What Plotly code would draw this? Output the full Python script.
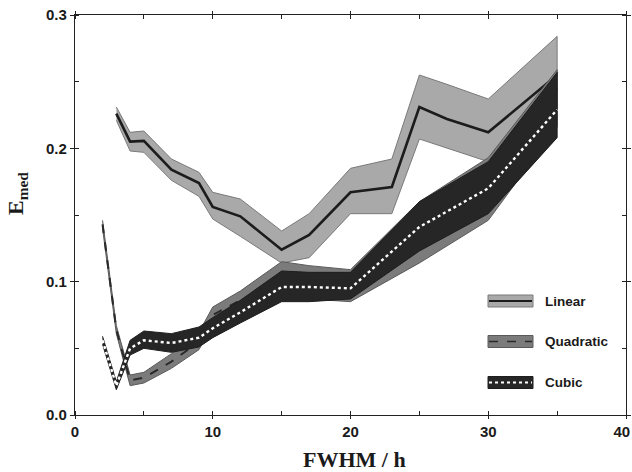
import plotly.graph_objects as go

# ---- data ----
lin_x = [3, 4, 5, 7, 9, 10, 12, 15, 17, 20, 23, 25, 27, 30, 35]
lin_mid = [0.226, 0.205, 0.2056, 0.184, 0.174, 0.156, 0.149, 0.124, 0.135, 0.167, 0.171, 0.231, 0.222, 0.212, 0.255]
lin_hi = [0.231, 0.212, 0.213, 0.192, 0.182, 0.167, 0.162, 0.138, 0.151, 0.185, 0.192, 0.255, 0.248, 0.237, 0.284]
lin_lo = [0.221, 0.198, 0.197, 0.176, 0.164, 0.147, 0.134, 0.114, 0.118, 0.151, 0.151, 0.207, 0.200, 0.190, 0.230]

quad_x = [2, 3, 4, 5, 7, 9, 10, 12, 15, 17, 20, 25, 30, 35]
quad_mid = [0.143, 0.064, 0.026, 0.028, 0.040, 0.055, 0.075, 0.086, 0.101, 0.100, 0.098, 0.140, 0.172, 0.245]
quad_hi = [0.146, 0.067, 0.030, 0.032, 0.046, 0.062, 0.081, 0.093, 0.115, 0.112, 0.109, 0.160, 0.193, 0.259]
quad_lo = [0.140, 0.061, 0.022, 0.024, 0.035, 0.049, 0.068, 0.078, 0.088, 0.087, 0.085, 0.114, 0.146, 0.216]

cub_x = [2, 3, 4, 5, 7, 9, 10, 12, 15, 17, 20, 25, 30, 35]
cub_mid = [0.056, 0.022, 0.050, 0.056, 0.054, 0.058, 0.065, 0.077, 0.096, 0.096, 0.095, 0.141, 0.170, 0.229]
cub_hi = [0.059, 0.025, 0.056, 0.063, 0.061, 0.066, 0.073, 0.086, 0.108, 0.107, 0.107, 0.160, 0.190, 0.257]
cub_lo = [0.053, 0.019, 0.045, 0.050, 0.047, 0.051, 0.058, 0.069, 0.085, 0.085, 0.087, 0.123, 0.151, 0.208]

series_names = ["Linear", "Quadratic", "Cubic"]
x_ticks = [0, 10, 20, 30, 40]
x_tick_labels = ["0", "10", "20", "30", "40"]
y_ticks = [0.0, 0.1, 0.2, 0.3]

# ---- styles ----
band_fill = ["#a9a9a9", "#7b7b7b", "#262626"]
band_edge = ["#7a7a7a", "#5a5a5a", "#1e1e1e"]
line_col = ["#1c1c1c", "#2a2a2a", "#ffffff"]
line_dash = ["solid", "dash", "dot"]
line_w = [2.6, 2.0, 2.4]

data = [(lin_x, lin_mid, lin_hi, lin_lo),
        (quad_x, quad_mid, quad_hi, quad_lo),
        (cub_x, cub_mid, cub_hi, cub_lo)]

fig = go.Figure()
for i, (xs, mid, hi, lo) in enumerate(data):
    fig.add_trace(go.Scatter(
        x=list(xs) + list(xs)[::-1], y=list(hi) + list(lo)[::-1],
        fill="toself", fillcolor=band_fill[i], mode="lines",
        line=dict(color=band_edge[i], width=1), showlegend=False, hoverinfo="skip"))
    fig.add_trace(go.Scatter(
        x=xs, y=mid, mode="lines", name=series_names[i],
        line=dict(color=line_col[i], width=line_w[i], dash=line_dash[i]),
        showlegend=False))

# plot area in pixels (for the hand-drawn legend and titles)
L, R, T, B = 75, 626, 15, 415
W, H = 632, 472


def px(xp):
    return (xp - L) / (R - L)


def py(yp):
    return (B - yp) / (B - T)


leg_y = [301, 341.5, 382.5]
box_x0, box_x1 = 488, 533
for i, name in enumerate(series_names):
    yc = leg_y[i]
    fig.add_shape(type="rect", xref="paper", yref="paper",
                  x0=px(box_x0), x1=px(box_x1), y0=py(yc + 6), y1=py(yc - 6),
                  fillcolor=band_fill[i], line=dict(color=band_edge[i], width=1))
    fig.add_shape(type="line", xref="paper", yref="paper",
                  x0=px(box_x0 + 1), x1=px(box_x1 - 1), y0=py(yc), y1=py(yc),
                  line=dict(color=line_col[i], width=line_w[i] - 0.4, dash=line_dash[i]))
    fig.add_annotation(xref="paper", yref="paper", x=px(543), y=py(yc),
                       xanchor="left", yanchor="middle", showarrow=False,
                       text=name,
                       font=dict(family="Liberation Sans, Arial", size=13.5,
                                 color="#1a1a1a", weight="bold"))

serif = "Liberation Serif, Times New Roman"
# y-axis title
fig.add_annotation(xref="paper", yref="paper", x=px(17), y=py(194),
                   xanchor="center", yanchor="middle", showarrow=False,
                   textangle=-90, text="E<sub>med</sub>",
                   font=dict(family=serif, size=22, color="#1a1a1a", weight="bold"))
# x-axis title
fig.add_annotation(xref="paper", yref="paper", x=px(354), y=py(459),
                   xanchor="center", yanchor="middle", showarrow=False,
                   text="FWHM / h",
                   font=dict(family=serif, size=22, color="#1a1a1a", weight="bold"))

tick_font = dict(family="Liberation Sans, Arial", size=15, color="#1a1a1a", weight="bold")
# last x label nudged left (via padding) so it stays inside the page edge
x_text = x_tick_labels[:-1] + [x_tick_labels[-1] + "&nbsp;&nbsp;"]
fig.update_layout(
    width=W, height=H,
    margin=dict(l=L, r=W - R, t=T, b=H - B),
    paper_bgcolor="white", plot_bgcolor="white",
    showlegend=False,
    xaxis=dict(range=[0, 40], tickvals=x_ticks, ticktext=x_text,
               automargin=False, ticklabeloverflow="allow",
               showgrid=False, zeroline=False, showline=True, linecolor="#222",
               linewidth=1.3, mirror="allticks", ticks="outside", ticklen=3,
               tickcolor="#222", tickfont=tick_font,
               minor=dict(dtick=5, ticks="inside", ticklen=4, tickcolor="#222", showgrid=False)),
    yaxis=dict(range=[0, 0.3], tickvals=y_ticks, ticktext=[f"{v:.1f}" for v in y_ticks],
               automargin=False, ticklabeloverflow="allow",
               showgrid=False, zeroline=False, showline=True, linecolor="#222",
               linewidth=1.3, mirror="allticks", ticks="outside", ticklen=4,
               tickcolor="#222", tickfont=tick_font,
               minor=dict(dtick=0.05, ticks="inside", ticklen=4, tickcolor="#222", showgrid=False)),
)

fig.write_html("out.html", config={"displayModeBar": False},
               post_script="document.body.style.margin='0';document.body.style.overflow='hidden';")
